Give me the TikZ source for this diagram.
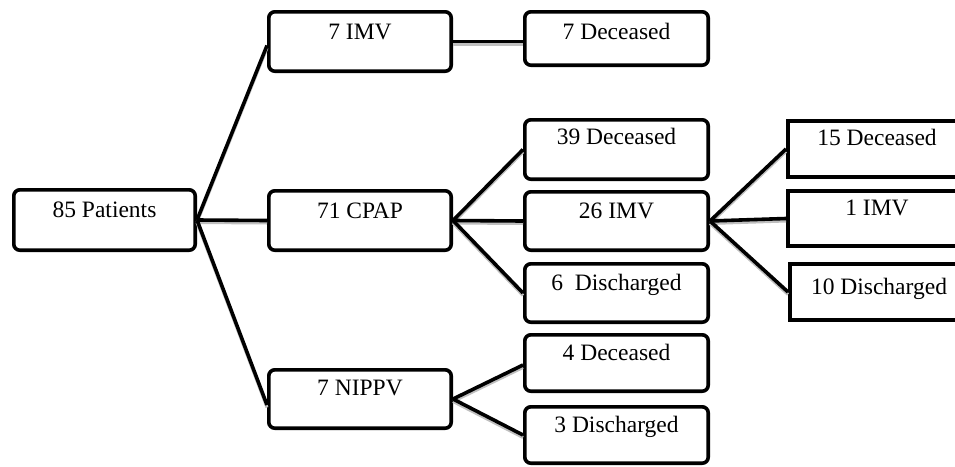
\documentclass[tikz,border=0pt]{standalone}
\usepackage{fontspec}
\setmainfont{Liberation Serif}
\tikzset{
  rbox/.style={draw=black, fill=white, line width=3.6pt, rounded corners=6pt, inner sep=0pt},
  sbox/.style={draw=black, fill=white, line width=3.6pt, inner sep=0pt},
  lbl/.style={anchor=base, font=\fontsize{23.5}{28}\selectfont, inner sep=0pt},
  conn/.style={line width=3.6pt, black, preaction={draw=gray!50, line width=3pt, transform canvas={yshift=-2.5pt}}}
}
\newcommand{\mkbox}[8]{%
  \node[#1, minimum width={(#5-#3-3.6)*1pt}, minimum height={(#6-#4-3.6)*1pt}] (#2) at ({(#3+#5)/2},{(#4+#6)/2}) {};
  \node[lbl] (#2-t) at ({(#3+#5)/2},{#4+#8}) {#7};}
\begin{document}
\begin{tikzpicture}[x=1pt, y=-1pt]
\useasboundingbox (0,0) rectangle (955,466);
\clip (0,0) rectangle (955,466);
% boxes (placed first for anchors)
\mkbox{rbox}{pat}{12}{188}{197}{252}{85 Patients}{29}
\mkbox{rbox}{imvA}{267}{10}{453}{73}{7 IMV}{29}
\mkbox{rbox}{cpap}{267}{189}{453}{252}{71 CPAP}{29}
\mkbox{rbox}{nippv}{267}{368}{453}{430}{7 NIPPV}{27}
\mkbox{rbox}{decA}{523}{10}{710}{67}{7 Deceased}{29}
\mkbox{rbox}{decB}{523}{118}{710}{181}{39 Deceased}{26}
\mkbox{rbox}{imvB}{523}{190}{710}{252}{26 IMV}{28}
\mkbox{rbox}{disA}{523}{262}{710}{324}{6~~Discharged}{28}
\mkbox{rbox}{decC}{523}{333}{710}{393}{4 Deceased}{27}
\mkbox{rbox}{disB}{523}{405}{710}{465}{3 Discharged}{27}
\mkbox{sbox}{decD}{786}{119}{968}{179}{15 Deceased}{26}
\mkbox{sbox}{imvC}{786}{189}{968}{248}{1 IMV}{26}
\mkbox{sbox}{disC}{788}{262}{970}{322}{10 Discharged}{32}
% connectors
\draw[conn] (pat.east) -- ([yshift=-4pt]imvA.west);
\draw[conn] (pat.east) -- (cpap.west);
\draw[conn] (pat.east) -- ([yshift=-6pt]nippv.west);
\draw[conn] (imvA.east) -- (decA.west |- imvA.east);
\draw[conn] (cpap.east) -- (decB.west);
\draw[conn] (cpap.east) -- (imvB.west);
\draw[conn] (cpap.east) -- (disA.west);
\draw[conn] (nippv.east) -- ([yshift=-2pt]decC.west);
\draw[conn] (nippv.east) -- (disB.west);
\draw[conn] (imvB.east) -- (decD.west);
\draw[conn] (imvB.east) -- (imvC.west);
\draw[conn] (imvB.east) -- (disC.west);
\end{tikzpicture}
\end{document}
